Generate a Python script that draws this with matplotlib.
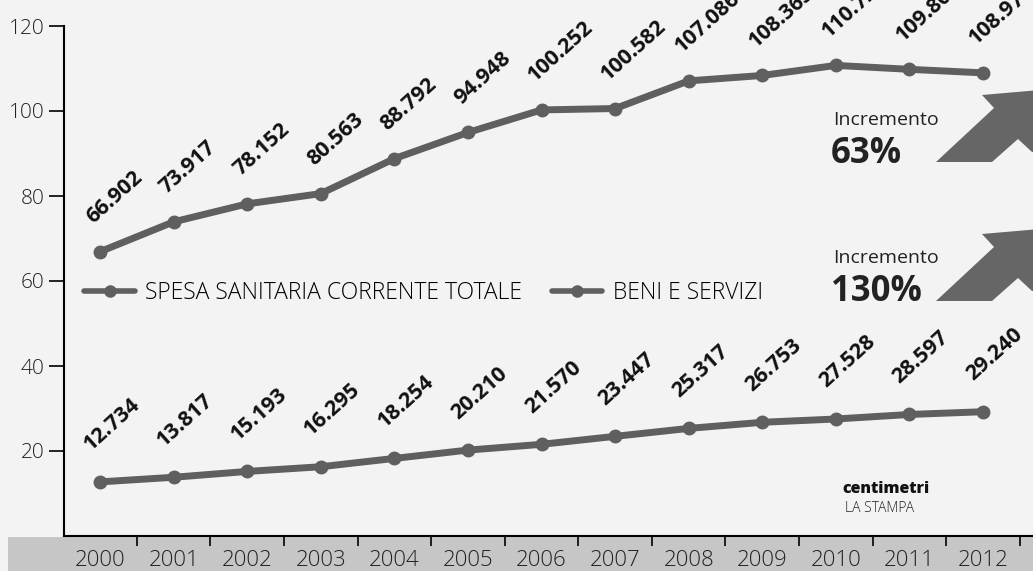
import matplotlib
matplotlib.use("Agg")
import matplotlib.pyplot as plt
from matplotlib.patches import Rectangle, Polygon
import numpy as np

plt.rcParams['font.family'] = ['Open Sans', 'DejaVu Sans']

anni = [2000, 2001, 2002, 2003, 2004, 2005, 2006, 2007, 2008, 2009, 2010, 2011, 2012]
spesa_totale = [66.902, 73.917, 78.152, 80.563, 88.792, 94.948, 100.252, 100.582,
                107.086, 108.363, 110.726, 109.806, 108.974]
beni_servizi = [12.734, 13.817, 15.193, 16.295, 18.254, 20.210, 21.570, 23.447,
                25.317, 26.753, 27.528, 28.597, 29.240]
etichette_totale = ['66.902', '73.917', '78.152', '80.563', '88.792', '94.948', '100.252',
                    '100.582', '107.086', '108.363', '110.726', '109.806', '108.974']
etichette_beni = ['12.734', '13.817', '15.193', '16.295', '18.254', '20.210', '21.570',
                  '23.447', '25.317', '26.753', '27.528', '28.597', '29.240']
y_ticks = [20, 40, 60, 80, 100, 120]

W, H = 1033, 571
bg = '#f3f3f3'
linea = '#5f5f5f'

fig = plt.figure(figsize=(W / 100, H / 100), dpi=100, facecolor=bg)
ax = fig.add_axes([64 / W, 35 / H, 1 - 64 / W, (536 - 26) / H])
ax.set_facecolor(bg)

# fascia grigia sotto l'asse x
fig.patches.append(Rectangle((8 / W, 0), 1, 34 / H, transform=fig.transFigure,
                             facecolor='#c6c6c6', edgecolor='none', zorder=-5))

ax.plot(anni, spesa_totale, color=linea, lw=5, marker='o', ms=9,
        label='SPESA SANITARIA CORRENTE TOTALE', solid_capstyle='round')
ax.plot(anni, beni_servizi, color=linea, lw=5, marker='o', ms=9,
        label='BENI E SERVIZI', solid_capstyle='round')

for x, y, t in zip(anni, spesa_totale, etichette_totale):
    ax.annotate(t, (x, y), xytext=(-5, 20), textcoords='offset points',
                rotation=42, rotation_mode='anchor', ha='left', va='baseline',
                fontsize=15.5, fontweight='bold', color='#111111', annotation_clip=False)
for x, y, t in zip(anni, beni_servizi, etichette_beni):
    ax.annotate(t, (x, y), xytext=(-7, 22), textcoords='offset points',
                rotation=42, rotation_mode='anchor', ha='left', va='baseline',
                fontsize=15.5, fontweight='bold', color='#111111', annotation_clip=False)

ax.set_xlim(1999.51, 2012.68)
ax.set_ylim(0, 120)
ax.set_yticks(y_ticks)
ax.set_yticklabels([str(v) for v in y_ticks], fontsize=15, fontweight='light', color='#222222')
ax.set_xticks(anni)
ax.set_xticklabels([str(a) for a in anni], fontsize=16, fontweight='light', color='#222222')
ax.set_xticks(np.array(anni) + 0.5, minor=True)
ax.tick_params(axis='x', which='major', length=0, pad=10)
ax.tick_params(axis='x', which='minor', length=7, width=1.2, direction='out')
ax.tick_params(axis='y', length=11, width=1.2, pad=3)
for s in ['top', 'right']:
    ax.spines[s].set_visible(False)
ax.spines['left'].set_linewidth(1.5)
ax.spines['bottom'].set_linewidth(1.5)

leg = ax.legend(loc='center left', bbox_to_anchor=(0.021, 0.476), ncol=2, frameon=False,
                handlelength=2.2, handletextpad=0.45, columnspacing=1.3,
                borderpad=0, borderaxespad=0, prop={'weight': 'light', 'size': 16.5})
for line in leg.get_lines():
    line.set_linewidth(4)
    line.set_markersize(8)

# incrementi e frecce
def px(x, y):
    return x / W, 1 - y / H

fig.text(*px(833, 125), 'Incremento', fontsize=14, color='#222222', va='baseline')
fig.text(*px(831, 163), '63%', fontsize=25, fontweight='bold', color='#222222', va='baseline')
fig.text(*px(833, 263), 'Incremento', fontsize=14, color='#222222', va='baseline')
fig.text(*px(831, 301), '130%', fontsize=25, fontweight='bold', color='#222222', va='baseline')

freccia = [(936, 162), (992, 162), (1018, 139), (1032, 152), (1040, 152),
           (1040, 90), (982, 95), (994, 108)]
for dy in (0, 139):
    pts = [px(x, y + dy) for x, y in freccia]
    fig.patches.append(Polygon(pts, closed=True, transform=fig.transFigure,
                               facecolor='#666666', edgecolor='none', zorder=3))

fig.text(*px(842, 493), 'centimetri', fontsize=11.5, fontweight='heavy', color='#111111',
         va='baseline')
fig.text(*px(845, 512), 'LA STAMPA', fontsize=10, fontweight='light', color='#222222',
         va='baseline')

fig.savefig('out.png', dpi=100, facecolor=bg)
